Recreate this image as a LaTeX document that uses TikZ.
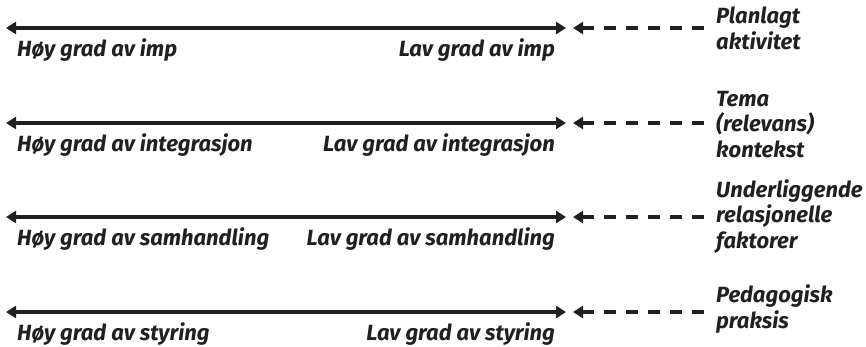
\documentclass[tikz,border=0pt]{standalone}
\usepackage{fontspec}
\setmainfont{Fira Sans}
\usetikzlibrary{arrows.meta}
\definecolor{ink}{HTML}{231F20}
\begin{document}
\begin{tikzpicture}[x=1pt,y=-1pt,
  scale line/.style={ink, line width=3.5pt, {Triangle[length=10pt,width=12pt]}-{Triangle[length=10pt,width=12pt]}},
  feed/.style={ink, line width=3.5pt, dash pattern=on 12pt off 10pt, -{Triangle[length=10pt,width=12pt]}},
  endlabel/.style={font=\fontsize{22}{26}\selectfont\bfseries\itshape, text=ink, inner sep=0pt},
  sidelabel/.style={font=\fontsize{22}{25.5}\selectfont\bfseries\itshape, text=ink, inner sep=0pt, align=left, anchor=base west}]
\useasboundingbox (0,0) rectangle (866,346);
% \t: baseline of the last line of the side label
\foreach \n/\y/\t/\hi/\lo/\side in {
  1/28/49/{Høy grad av imp}/{Lav grad av imp}/{Planlagt\\aktivitet},
  2/123/157/{Høy grad av integrasjon}/{Lav grad av integrasjon}/{Tema\\(relevans)\\kontekst},
  3/217/248/{Høy grad av samhandling}/{Lav grad av samhandling}/{Underliggende\\relasjonelle\\faktorer},
  4/312/328/{Høy grad av styring}/{Lav grad av styring}/{Pedagogisk\\praksis}}{
  \coordinate (l\n) at (6,\y);
  \coordinate (r\n) at (566,\y);
  \coordinate (d\n) at (704,\y);
  \coordinate (t\n) at (573,\y);
  \draw[scale line] (l\n) -- (r\n);
  \draw[feed] (d\n) -- (t\n);
  \node[endlabel, anchor=base west] (hi\n) at (17,\y+28) {\hi};
  \node[endlabel, anchor=base east] (lo\n) at (555,\y+28) {\lo};
  \node[sidelabel] (side\n) at (716,\t) {\side};
}
\end{tikzpicture}
\end{document}
